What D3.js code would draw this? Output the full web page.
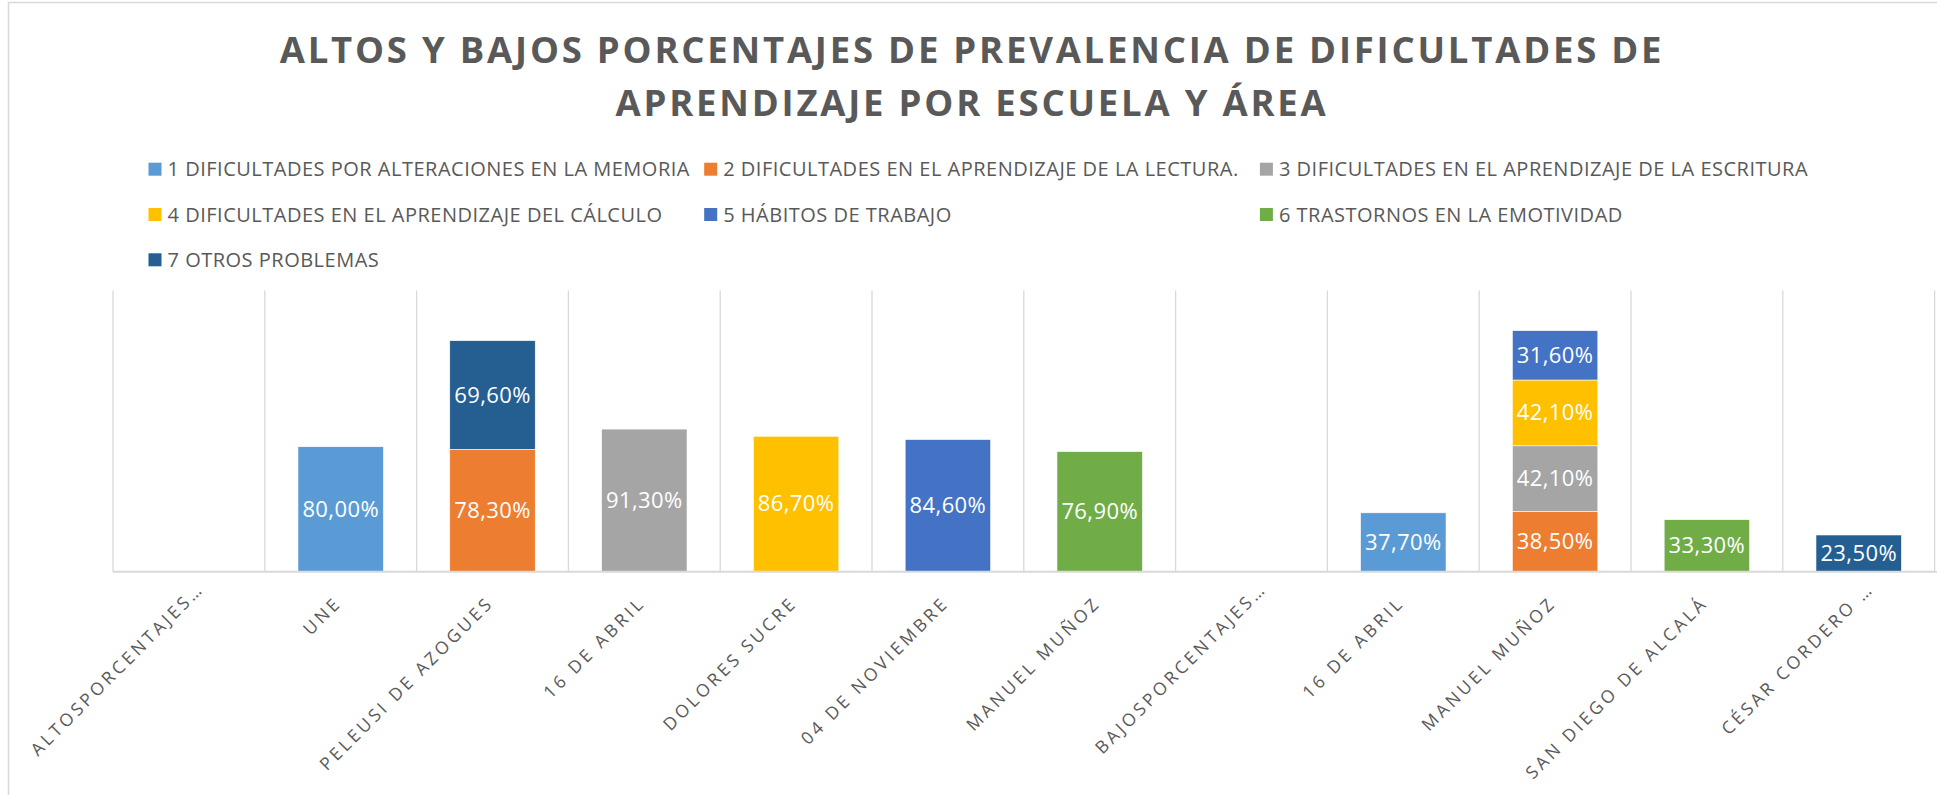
<!DOCTYPE html>
<html>
<head>
<meta charset="utf-8">
<script src="https://cdn.jsdelivr.net/npm/d3@7"></script>
<style>
  body { margin: 0; background: #ffffff; }
  text { font-family: "Open Sans", sans-serif; }
</style>
</head>
<body>
<div id="chart"></div>
<script>
// categories along the x axis (schools, split into high / low groups)
var categories = [
  "ALTOSPORCENTAJES…", "UNE", "PELEUSI DE AZOGUES", "16 DE ABRIL",
  "DOLORES SUCRE", "04 DE NOVIEMBRE", "MANUEL MUÑOZ", "BAJOSPORCENTAJES…",
  "16 DE ABRIL", "MANUEL MUÑOZ", "SAN DIEGO DE ALCALÁ", "CÉSAR CORDERO …"
];

var seriesNames = [
  "1 DIFICULTADES POR ALTERACIONES EN LA MEMORIA",
  "2 DIFICULTADES EN EL APRENDIZAJE DE LA LECTURA.",
  "3 DIFICULTADES EN EL APRENDIZAJE DE LA ESCRITURA",
  "4 DIFICULTADES EN EL APRENDIZAJE DEL CÁLCULO",
  "5 HÁBITOS DE TRABAJO",
  "6 TRASTORNOS EN LA EMOTIVIDAD",
  "7 OTROS PROBLEMAS"
];

var seriesColors = ["#5b9bd5", "#ed7d31", "#a5a5a5", "#ffc000", "#4472c4", "#70ad47", "#255e91"];

// percentages per series, one entry per category (null = no bar)
var s1 = [null, 80.0, null, null, null, null, null, null, 37.7, null, null, null];
var s2 = [null, null, 78.3, null, null, null, null, null, null, 38.5, null, null];
var s3 = [null, null, null, 91.3, null, null, null, null, null, 42.1, null, null];
var s4 = [null, null, null, null, 86.7, null, null, null, null, 42.1, null, null];
var s5 = [null, null, null, null, null, 84.6, null, null, null, 31.6, null, null];
var s6 = [null, null, null, null, null, null, 76.9, null, null, null, 33.3, null];
var s7 = [null, null, 69.6, null, null, null, null, null, null, null, null, 23.5];

var allSeries = [s1, s2, s3, s4, s5, s6, s7];

var width = 1937, height = 795;
var plotLeft = 113, plotRight = 1934.6, plotTop = 290.5, plotBottom = 571.7;

var svg = d3.select("#chart")
  .append("svg")
  .attr("width", width)
  .attr("height", height);

svg.append("rect")
  .attr("width", width).attr("height", height)
  .attr("fill", "#ffffff");

// chart area border (cut off on the right and bottom like the original)
svg.append("rect")
  .attr("x", 8.5).attr("y", 2.5)
  .attr("width", width + 10).attr("height", height + 10)
  .attr("fill", "none")
  .attr("stroke", "#d9d9d9")
  .attr("stroke-width", 1.5);

// title
var title = svg.append("text")
  .attr("text-anchor", "middle")
  .attr("font-weight", "bold")
  .attr("font-size", "36.5px")
  .attr("fill", "#595959")
  .style("letter-spacing", "2.78px");
title.append("tspan").attr("x", 972).attr("y", 63)
  .text("ALTOS Y BAJOS PORCENTAJES DE PREVALENCIA DE DIFICULTADES DE");
title.append("tspan").attr("x", 972).attr("y", 116)
  .text("APRENDIZAJE POR ESCUELA Y ÁREA");

// legend, 3 columns
var legend = svg.selectAll(".legend")
  .data(seriesNames)
  .enter()
  .append("g")
  .attr("class", "legend")
  .attr("transform", function (d, i) {
    return "translate(" + (148.5 + (i % 3) * 555.7) + "," + (169.2 + Math.floor(i / 3) * 45.3) + ")";
  });

legend.append("rect")
  .attr("x", 0).attr("y", -6.5)
  .attr("width", 13).attr("height", 13)
  .attr("fill", function (d, i) { return seriesColors[i]; });

legend.append("text")
  .attr("x", 19)
  .attr("y", 7)
  .attr("font-size", "20px")
  .attr("fill", "#595959")
  .style("letter-spacing", "0.5px")
  .text(function (d) { return d; });

// scales
var x = d3.scaleBand()
  .domain(d3.range(categories.length))
  .range([plotLeft, plotRight])
  .paddingInner(0.437)
  .paddingOuter(0.2185);

var y = d3.scaleLinear()
  .domain([0, 180])
  .range([plotBottom, plotTop]);

// vertical gridlines between categories
var step = x.step();
var bounds = d3.range(categories.length + 1).map(function (i) { return plotLeft + i * step; });
svg.append("g").selectAll("line")
  .data(bounds)
  .enter()
  .append("line")
  .attr("x1", function (d) { return d; })
  .attr("x2", function (d) { return d; })
  .attr("y1", plotTop)
  .attr("y2", plotBottom)
  .attr("stroke", "#d9d9d9")
  .attr("stroke-width", 1.3);

// stacked data
var rows = categories.map(function (c, i) {
  var row = { index: i };
  allSeries.forEach(function (s, k) { row["s" + k] = s[i] || 0; });
  return row;
});
var keys = allSeries.map(function (s, k) { return "s" + k; });
var stacked = d3.stack().keys(keys)(rows);

var layers = svg.append("g").selectAll("g")
  .data(stacked)
  .enter()
  .append("g")
  .attr("fill", function (d, k) { return seriesColors[k]; });

var segs = layers.selectAll("g")
  .data(function (d) { return d.filter(function (p) { return p[1] - p[0] > 0; }); })
  .enter()
  .append("g");

segs.append("rect")
  .attr("x", function (d) { return x(d.data.index); })
  .attr("width", x.bandwidth())
  .attr("y", function (d) { return y(d[1]); })
  .attr("height", function (d) { return y(d[0]) - y(d[1]); })
  .attr("stroke", "#ffffff")
  .attr("stroke-width", 0.6);

segs.append("text")
  .attr("x", function (d) { return x(d.data.index) + x.bandwidth() / 2; })
  .attr("y", function (d) { return (y(d[0]) + y(d[1])) / 2 + 7.5; })
  .attr("text-anchor", "middle")
  .attr("font-size", "22px")
  .attr("fill", "#ffffff")
  .style("letter-spacing", "0.4px")
  .text(function (d) { return (d[1] - d[0]).toFixed(2).replace(".", ",") + "%"; });

// x axis line
svg.append("line")
  .attr("x1", plotLeft).attr("x2", width)
  .attr("y1", plotBottom).attr("y2", plotBottom)
  .attr("stroke", "#d9d9d9")
  .attr("stroke-width", 2);

// rotated category labels (truncated ones sit a bit further along, like Excel does)
svg.append("g").selectAll("text")
  .data(categories)
  .enter()
  .append("text")
  .attr("transform", function (d, i) {
    return "translate(" + (x(i) + x.bandwidth() / 2 + 2) + "," + 604 + ") rotate(-45)";
  })
  .attr("dx", function (d) { return d.slice(-1) === "…" ? 20 : 0; })
  .attr("text-anchor", "end")
  .attr("font-size", "17.5px")
  .attr("fill", "#595959")
  .style("letter-spacing", "3.3px")
  .text(function (d) { return d; });
</script>
</body>
</html>
